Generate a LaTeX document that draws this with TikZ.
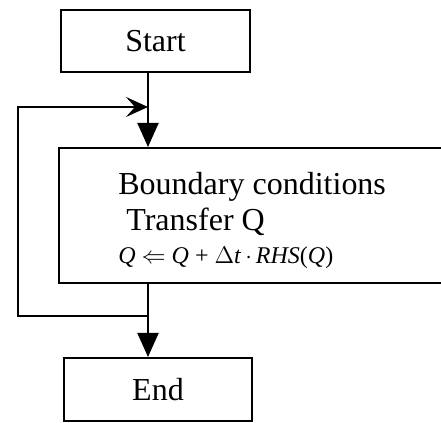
\documentclass[tikz,border=0pt]{standalone}
\usepackage{fontspec}
\setmainfont{Liberation Serif}
\usetikzlibrary{calc,positioning,arrows.meta}
\tikzstyle{stepbox}=[draw,line width=1pt,inner sep=0pt]
\tikzstyle{flow}=[line width=1pt,-{Triangle[length=12pt,width=10.5pt]}]
\tikzstyle{back}=[line width=1pt,-{Stealth[length=11pt,width=10pt,inset=4.5pt]}]
\newcommand{\boxtext}{\fontsize{16}{17.5}\selectfont}
\newcommand{\eqtext}{\fontsize{12}{14}\selectfont}

\begin{document}
\begin{tikzpicture}[x=0.5pt,y=0.5pt]
	\useasboundingbox (0,0) rectangle (441,423);
	% the three steps
	\node[stepbox,minimum width=94.5pt,minimum height=31pt] (start) at (155.5,382) {\boxtext Start};
	\node[stepbox,minimum width=205.5pt,minimum height=67.5pt] (update) at (264.5,207.5) {};
	\node[anchor=west,align=left,inner sep=0pt] (updtext) at ($(update.west)+(60,-5)$)
		{\boxtext Boundary conditions\\[2.5pt]
		 \boxtext \ Transfer Q\\[4.5pt]
		 \eqtext \textit{Q} $\Leftarrow$ \textit{Q} + $\Delta$\textit{t}$\,\cdot\,$\textit{RHS}(\textit{Q})};
	\node[stepbox,minimum width=94pt,minimum height=31.5pt] (end) at (158,33.5) {\boxtext End};
	% spine and loop
	\coordinate (loopin) at (148,316);
	\coordinate (loopout) at (148,107);
	\coordinate (lefttop) at (18,316);
	\coordinate (leftbot) at (18,107);
	\draw[flow] (start.south -| loopin) -- (update.north -| loopin);
	\draw[flow] (update.south -| loopout) -- (end.north -| loopout);
	\draw[back] (loopout) -- (leftbot) -- (lefttop) -- (loopin);
\end{tikzpicture}
\end{document}
